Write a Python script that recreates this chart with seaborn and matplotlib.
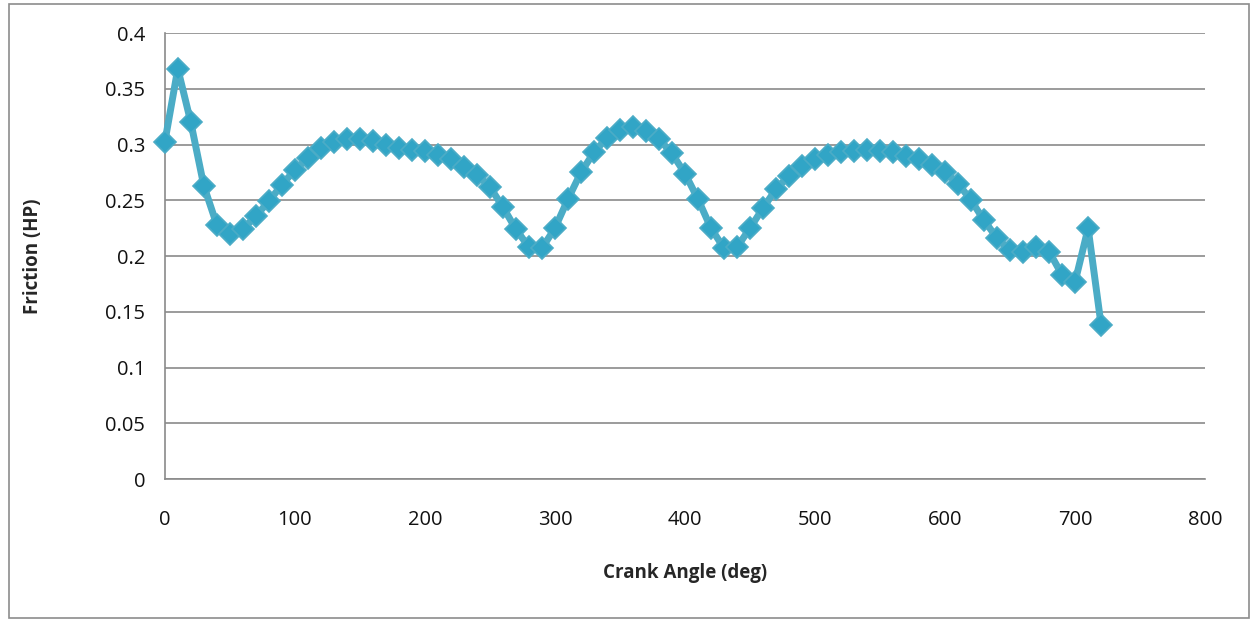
import numpy as np
import pandas as pd
import matplotlib
matplotlib.use("Agg")
import matplotlib.pyplot as plt
import seaborn as sns
from matplotlib.patches import Rectangle

crank_angle = list(range(0, 721, 10))
friction = [
    0.302, 0.368, 0.320, 0.263, 0.228, 0.220, 0.224, 0.236, 0.249, 0.264,
    0.277, 0.288, 0.297, 0.302, 0.305, 0.305, 0.303, 0.300, 0.297, 0.295,
    0.294, 0.291, 0.287, 0.280, 0.273, 0.262, 0.244, 0.224, 0.208, 0.207,
    0.225, 0.251, 0.275, 0.293, 0.306, 0.313, 0.316, 0.312, 0.305, 0.292,
    0.274, 0.251, 0.225, 0.207, 0.208, 0.225, 0.243, 0.260, 0.272, 0.281,
    0.287, 0.291, 0.293, 0.294, 0.295, 0.294, 0.293, 0.290, 0.287, 0.282,
    0.275, 0.265, 0.250, 0.232, 0.216, 0.205, 0.204, 0.208, 0.204, 0.183,
    0.177, 0.225, 0.138,
]
x_ticks = [0, 100, 200, 300, 400, 500, 600, 700, 800]
y_ticks = [0, 0.05, 0.1, 0.15, 0.2, 0.25, 0.3, 0.35, 0.4]
y_tick_labels = ["0", "0.05", "0.1", "0.15", "0.2", "0.25", "0.3", "0.35", "0.4"]

df = pd.DataFrame({"Crank Angle (deg)": crank_angle, "Friction (HP)": friction})

sns.set_theme(style="white")
plt.rcParams["font.family"] = ["Open Sans", "DejaVu Sans"]

fig = plt.figure(figsize=(12.58, 6.23), dpi=100)
ax = fig.add_axes([0.131, 0.231, 0.827, 0.716])

fig.patches.append(Rectangle((0.007, 0.008), 0.986, 0.985, transform=fig.transFigure,
                             fill=False, edgecolor="#8c8c8c", linewidth=1.2))

line_color = "#4BACC6"
sns.lineplot(data=df, x="Crank Angle (deg)", y="Friction (HP)", ax=ax,
             color=line_color, linewidth=5.0, marker="D", markersize=11,
             markerfacecolor="#31A5C6", markeredgecolor="#4BACC6", markeredgewidth=1.2,
             zorder=5, clip_on=False)

ax.set_xlim(0, 800)
ax.set_ylim(0, 0.4)
ax.set_xticks(x_ticks)
ax.set_xticklabels([str(t) for t in x_ticks])
ax.set_yticks(y_ticks)
ax.set_yticklabels(y_tick_labels)

ax.yaxis.grid(True, color="#8a8a8a", linewidth=1.2)
ax.xaxis.grid(False)
ax.set_axisbelow(True)

for side in ["top", "right"]:
    ax.spines[side].set_visible(False)
for side in ["left", "bottom"]:
    ax.spines[side].set_color("#8a8a8a")
    ax.spines[side].set_linewidth(1.2)

ax.tick_params(axis="both", which="both", direction="out", length=6, width=1.2,
               color="#8a8a8a", labelsize=14.5, labelcolor="#111111", pad=8)
ax.tick_params(axis="x", pad=16)

ax.set_xlabel("Crank Angle (deg)", fontsize=13.5, fontweight="bold", labelpad=24)
ax.set_ylabel("Friction (HP)", fontsize=13.5, fontweight="bold", labelpad=45)

fig.savefig("out.png", dpi=100)
